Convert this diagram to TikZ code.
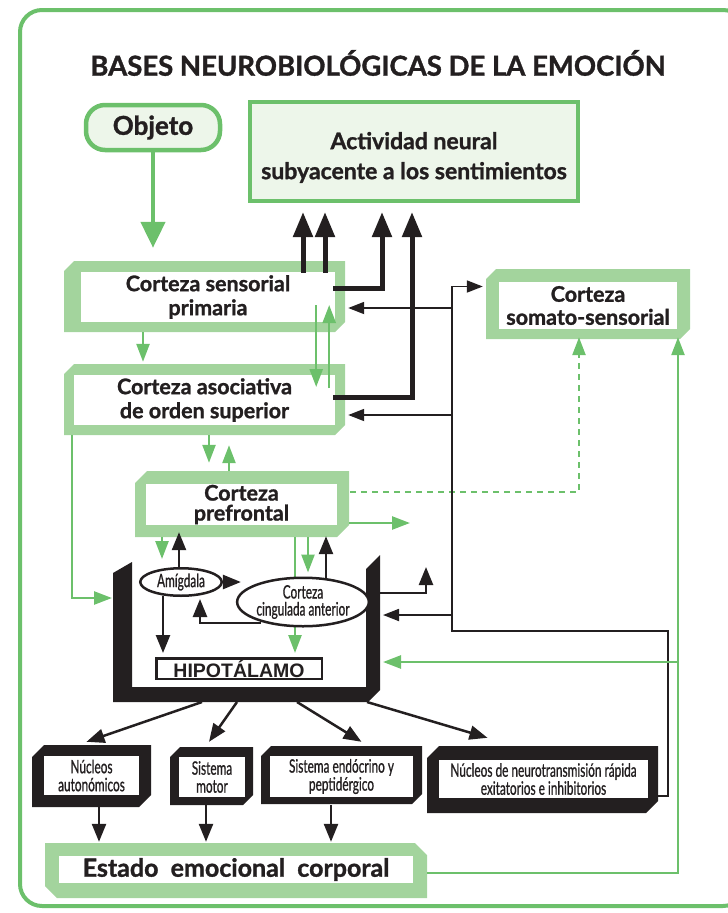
\documentclass[tikz,border=0pt]{standalone}
\usepackage{fontspec}
\setmainfont{Lato}[BoldFeatures={FakeBold=1.2}]
\newfontfamily\condfont[FakeStretch=0.64,FakeBold=0.8]{Lato}
\newfontfamily\helvfont{Liberation Sans}
\usepackage{tikz}
\usetikzlibrary{arrows.meta}
\usetikzlibrary{calc}
\usetikzlibrary{shapes.geometric}

\definecolor{gline}{HTML}{6CC06B}
\definecolor{gframe}{HTML}{A3D49D}
\definecolor{gfill}{HTML}{EDF6EA}
\definecolor{ink}{HTML}{231F20}

% frame with cut top-left and bottom-right corners
\newcommand{\cutbox}[6]{\fill[#1] ({#2+#6},#3) -- (#4,#3) -- (#4,{#5-#6}) -- ({#4-#6},#5) -- (#2,#5) -- (#2,{#3+#6}) -- cycle;}
% frame with cut top-right and bottom-left corners
\newcommand{\cutboxr}[6]{\fill[#1] (#2,#3) -- ({#4-#6},#3) -- (#4,{#3+#6}) -- (#4,#5) -- ({#2+#6},#5) -- (#2,{#5-#6}) -- cycle;}

\begin{document}
\begin{tikzpicture}[x=1pt,y=-1pt,
	inbox/.style={fill=white,inner sep=0pt,align=center,text=ink,font=\bfseries\fontsize{21.5}{24}\selectfont},
	nbox/.style={fill=white,inner sep=0pt,align=center,text=ink,font=\condfont\fontsize{18.5}{18}\selectfont},
	oval/.style={ellipse,draw=ink,line width=2.5pt,fill=white,inner sep=0pt,align=center,text=ink,font=\condfont\fontsize{18.5}{17}\selectfont},
	gbig/.style={gline,line width=4.5pt,-{Triangle[length=26pt,width=24pt]}},
	gar/.style={gline,line width=2.5pt,-{Triangle[length=18pt,width=13pt]}},
	kthick/.style={ink,line width=5pt,-{Triangle[length=25pt,width=19pt]}},
	kar/.style={ink,line width=2.5pt,-{Triangle[length=18pt,width=14pt]}},
	kthinar/.style={ink,line width=1.8pt,-{Triangle[length=16pt,width=12pt]}}]
		
		\useasboundingbox (0,0) rectangle (728,913);
		
		% Outer frame
		\draw[gline,line width=4pt,rounded corners=22pt] (20,10) rectangle (745,906);
		
		\node[text=ink,font=\bfseries\fontsize{27.5}{30}\selectfont] (title) at (378,63) {BASES NEUROBIOLÓGICAS DE LA EMOCIÓN};
		
		% Top boxes
		\node[draw=gline,fill=gfill,line width=4.5pt,rounded corners=19pt,minimum width=134pt,minimum height=45pt,text=ink,font=\bfseries\fontsize{26}{26}\selectfont] (obj) at (153,127.5) {Objeto};
		\node[draw=gline,fill=gfill,line width=4pt,minimum width=328pt,minimum height=99pt] (act) at (414,151.5) {};
		\node[align=center,text=ink,font=\bfseries\fontsize{23}{30}\selectfont] (actlbl) at ($(act.center)+(0,6)$) {Actividad neural\\subyacente a los sentimientos};
		
		% Cortex
		\cutbox{gframe}{64}{261}{345}{332}{10}
		\node[inbox,minimum width=254pt,minimum height=50pt] (csp) at (208,297) {Corteza sensorial\\primaria};
		\cutbox{gframe}{64}{364}{345}{435}{10}
		\node[inbox,minimum width=261pt,minimum height=50pt] (cas) at (204.5,400) {Corteza asociativa\\de orden superior};
		\cutbox{gframe}{135}{471}{349}{537}{12}
		\node[inbox,minimum width=191pt,minimum height=41pt,font=\bfseries\fontsize{21.5}{20}\selectfont] (cpf) at (241.5,504.5) {Corteza\\prefrontal};
		\cutbox{gframe}{486}{269}{690}{339}{10}
		\node[inbox,minimum width=178pt,minimum height=47pt,font=\bfseries\fontsize{21.5}{23}\selectfont] (css) at (588,305.5) {Corteza\\somato-sensorial};
		
		% Limbic system
		\fill[ink] (113,573) -- (132,562) -- (132,687) -- (366,687) -- (366,569) -- (380,555) -- (380,690) -- (368,702) -- (113,702) -- cycle;
		\coordinate (Uw) at (113,598);
		\coordinate (Ue) at (380,593);
		\coordinate (Us) at (240,702);
		\node[draw=ink,line width=2.5pt,fill=white,minimum width=165.5pt,minimum height=20.5pt,inner sep=0pt,text=ink,font=\helvfont\bfseries\fontsize{19.5}{20}\selectfont] (hip) at (239,668.5) {HIPOTÁLAMO};
		\node[oval,minimum width=81.5pt,minimum height=27.5pt] (amy) at (181,582) {Amígdala};
		\draw[gar] ($(cpf.south)+(53.5,12)$) -- ($(hip.north)+(56,-4)$);
		\node[oval,minimum width=112.5pt,minimum height=48.5pt] (cca) at (303,602) {Corteza\\cingulada anterior};
		
		% Effectors
		\cutbox{ink}{32}{745}{151}{807}{12}
		\node[nbox,minimum width=95pt,minimum height=39pt] (na) at (91.5,775.5) {Núcleos\\autonómicos};
		\cutbox{ink}{170}{747}{253}{805}{10}
		\node[nbox,minimum width=66pt,minimum height=40pt] (sm) at (212,777) {Sistema\\motor};
		\cutbox{ink}{261}{746}{422}{804}{10}
		\node[nbox,minimum width=143pt,minimum height=41pt] (se) at (341.5,776.5) {Sistema endócrino y\\peptidérgico};
		\cutbox{ink}{427}{746}{658}{813}{12}
		\node[nbox,minimum width=209pt,minimum height=38pt] (nn) at (543.5,779) {Núcleos de neurotransmisión rápida\\exitatorios e inhibitorios};
		
		\cutboxr{gframe}{45}{843}{427}{898}{12}
		\node[inbox,minimum width=354pt,minimum height=27pt,font=\bfseries\fontsize{25}{25}\selectfont] (est) at (236,869.5) {Estado\ \ emocional\ \ corporal};
		
		% Object to sensory cortex
		\draw[gbig,shorten >=24pt] (obj.south) -- (obj.south |- csp.north);
		
		% Towards the feelings
		\foreach \dx in {95,117}
			\draw[kthick,shorten >=9pt] ($(csp.north)+(\dx,1)$) -- ($(csp.north |- act.south)+(\dx,0)$);
		\draw[kthick,shorten >=9pt] ($(csp.east)+(-2,-9)$) -| ($(act.south)+(-32,0)$);
		\draw[kthick,shorten >=9pt] ($(cas.east)+(-2,-3)$) -| ($(act.south)+(-2,0)$);
		
		% Sensory and association cortex
		\draw[gar,shorten <=10pt,shorten >=13pt] ($(csp.south)+(-65,0)$) -- ($(csp.south |- cas.north)+(-65,0)$);
		\draw[gar] ($(csp.east)+(-19,8)$) -- ($(cas.east)+(-19,-13)$);
		\draw[gar] ($(cas.east)+(-6,-12)$) -- ($(csp.east)+(-6,8)$);
		
		% Association and prefrontal cortex
		\draw[gar] ($(cas.south)+(4.5,10)$) -- ($(cpf.north)+(-32.5,-21)$);
		\draw[gar] ($(cpf.north)+(-12.5,-13)$) -- ($(cas.south)+(24.5,20)$);
		\draw[gar,shorten >=1pt] ($(cas.south west)+(-2,10)$) |- (Uw);
		
		% Prefrontal and limbic structures
		\coordinate (pfout) at (410,523);
		\draw[gar] ($(cpf.south)+(-79.5,12)$) -- ($(amy.north)+(-19,-8)$);
		\draw[kar,shorten >=7pt] ($(amy.north)+(-2,0)$) -- ($(amy.north |- cpf.south)+(-2,0)$);
		\draw[gar] ($(cpf.south)+(66.5,12)$) -- ($(cca.north)+(5,-4)$);
		\draw[kar] ($(cca.north)+(23,2)$) -- ($(cpf.south)+(84.5,11)$);
		\draw[gar] ($(cpf.east)+(12,18.5)$) -- (pfout);
		\draw[gar,dash pattern=on 6pt off 5pt] ($(cpf.east)+(13,-12.5)$) -| ($(css.south)+(-9,8)$);
		
		% Inside the limbic system
		\draw[kar,shorten >=-5pt] (amy.east) -- (amy.east -| cca.west);
		\draw[kar] ($(cca.south west)+(5,3)$) -| ($(amy.south)+(19,2)$);
		\draw[kar] ($(amy.south)+(-18,-1.5)$) -- ($(hip.north)+(-76,-4)$);
		
		% Outputs
		\coordinate (uout) at (426,567);
		\draw[kar] (Ue) -| (uout);
		\foreach \ux/\tgt/\dx/\dy in {-38/na/-5/14, -3/sm/-3/15, 57/se/20/14, 127/nn/-56/22}
			\draw[kar] ($(Us)+(\ux,0)$) -- ($(\tgt.north)+(\dx,-\dy)$);
		\foreach \src/\dx in {na/7.5, sm/-6, se/-10.5}
			\draw[kar,shorten <=8pt,shorten >=14pt] ($(\src.south)+(\dx,0)$) -- ($(\src.south |- est.north)+(\dx,0)$);
		
		% Feedback from fast nuclei
		\coordinate (tk1) at (452,308);
		\coordinate (tk2) at (452,415);
		\coordinate (tk3) at (452,615);
		\coordinate (tkb) at (452,631);
		\coordinate (tkr) at (668,631);
		\draw[kthinar,shorten >=16pt] ($(nn.east)+(7,17)$) -| (tkr) -- (tkb) |- ($(css.west)+(0,-19)$);
		\foreach \t/\n in {tk1/csp, tk2/cas}
			\draw[kthinar,shorten >=13pt] (\t) -- (\t -| \n.east);
		\draw[kthinar,shorten >=3pt] (tk3) -- (tk3 -| Ue);
		
		% Body feedback
		\coordinate (gk) at (678,662);
		\draw[gar] ($(est.east)+(14,3.5)$) -| ($(css.south)+(90,8)$);
		\draw[gar,shorten >=3pt] (gk) -- (gk -| Ue);
		
	\end{tikzpicture}
\end{document}
